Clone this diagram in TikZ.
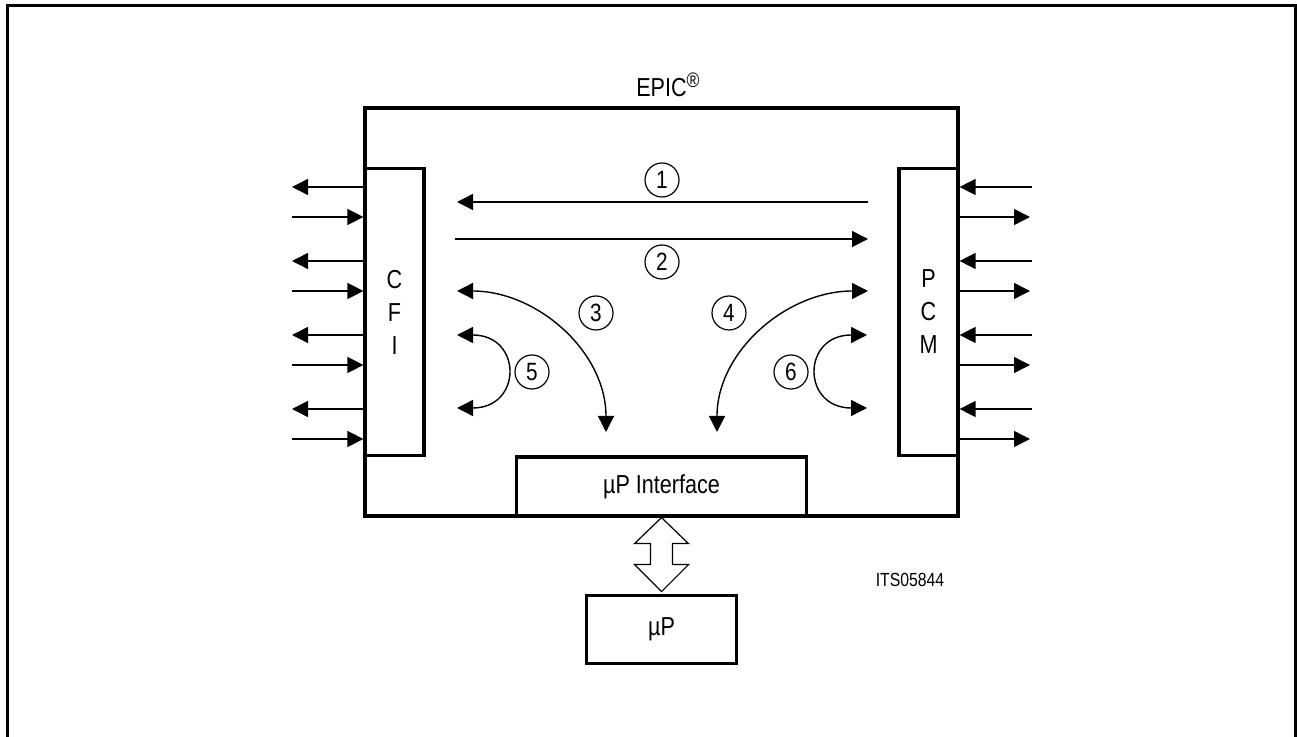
\documentclass[tikz,border=0pt]{standalone}
\usepackage{fontspec}
\setmainfont{Liberation Sans}[FakeStretch=0.83]
\usetikzlibrary{positioning}
\usetikzlibrary{arrows.meta}
\usetikzlibrary{calc}

\begin{document}
\begin{tikzpicture}[
		x=0.5pt, y=-0.5pt,
		% Style definitions - pixel grid of the sheet
		block/.style={draw, line width=1.6pt, inner sep=0pt, align=center, font=\fontsize{13}{16.5}\selectfont},
		num/.style={draw, circle, line width=0.6pt, minimum size=17pt, inner sep=0pt, font=\fontsize{12.5}{13}\selectfont},
		arrow/.style={-{Triangle[length=8pt,width=8pt]}, line width=0.7pt},
		dblarrow/.style={{Triangle[length=8pt,width=8pt]}-{Triangle[length=8pt,width=8pt]}, line width=0.7pt},
		bus/.style={draw, line width=0.6pt, fill=white, line join=miter},
		]
		\useasboundingbox (0,0) rectangle (1297,737);

		% Sheet frame
		\draw[line width=1.5pt] (7,737) -- (7,6) -- (1295,6) -- (1295,737);

		% Main blocks
		\node[block, minimum width=296.5pt, minimum height=204pt] (epic) at (661.5,312) {};
		\node[block, minimum width=29.5pt, minimum height=143.5pt, anchor=west] (cfi) at (epic.west) {C\\F\\I};
		\node[block, minimum width=29.5pt, minimum height=143.5pt, anchor=east] (pcm) at (epic.east) {P\\C\\M};
		\node[block, minimum width=145pt, minimum height=29.5pt, anchor=south] (iface) at (epic.south) {µP Interface};
		\node[block, minimum width=75pt, minimum height=34pt, below=38pt of iface] (up) {µP};

		% Labels
		\node[anchor=base, font=\fontsize{13}{14}\selectfont] (title) at (epic.north |- 0,97)
			{EPIC\rlap{\raisebox{4.5pt}{\fontsize{10.5}{11}\selectfont\textregistered}}};
		\node[font=\fontsize{9.5}{10}\selectfont] (code) at (910,580) {ITS05844};

		% Line ports of CFI and PCM
		\foreach \y [count=\i] in {187,261,335,409} {
			\coordinate (cfiout\i) at (292,\y);
			\coordinate (cfiin\i) at (292,\y+30);
			\coordinate (pcmin\i) at (1032,\y);
			\coordinate (pcmout\i) at (1030,\y+30);
			\draw[arrow] (cfi.west |- cfiout\i) -- (cfiout\i);
			\draw[arrow] (cfiin\i) -- (cfi.west |- cfiin\i);
			\draw[arrow] (pcmin\i) -- (pcm.east |- pcmin\i);
			\draw[arrow] (pcm.east |- pcmout\i) -- (pcmout\i);
		}

		% Switching paths
		\coordinate (l1) at (457,202);
		\coordinate (r1) at (868,202);
		\coordinate (l2) at (455,239);
		\coordinate (r2) at (868,239);
		\coordinate (l3) at (457,291);
		\coordinate (d3) at (606,432);
		\coordinate (r4) at (868,291);
		\coordinate (d4) at (717,432);
		\coordinate (l5a) at (457,335);
		\coordinate (l5b) at (457,408);
		\coordinate (r6a) at (867,335);
		\coordinate (r6b) at (867,408);

		\draw[arrow] (r1) -- (l1);
		\draw[arrow] (l2) -- (r2);
		\draw[dblarrow] (l3) to[out=0, in=90] (d3);
		\draw[dblarrow] (r4) to[out=180, in=90] (d4);
		\draw[dblarrow] (l5a) to[out=0, in=0, looseness=2.3] (l5b);
		\draw[dblarrow] (r6a) to[out=180, in=180, looseness=2.3] (r6b);

		% Path numbers
		\node[num] (n1) at (662,180) {1};
		\node[num] (n2) at (662,262) {2};
		\node[num] (n3) at (596,313) {3};
		\node[num] (n4) at (729,313) {4};
		\node[num] (n5) at (532,372) {5};
		\node[num] (n6) at (791,372) {6};

		% Bus to the microprocessor
		\draw[bus] (iface.south) -- ++(27,26) -- ++(-16,0) -- ++(0,21) -- ++(16,0) -- ++(-27,27)
			-- ++(-27,-27) -- ++(16,0) -- ++(0,-21) -- ++(-16,0) -- cycle;

	\end{tikzpicture}
\end{document}
